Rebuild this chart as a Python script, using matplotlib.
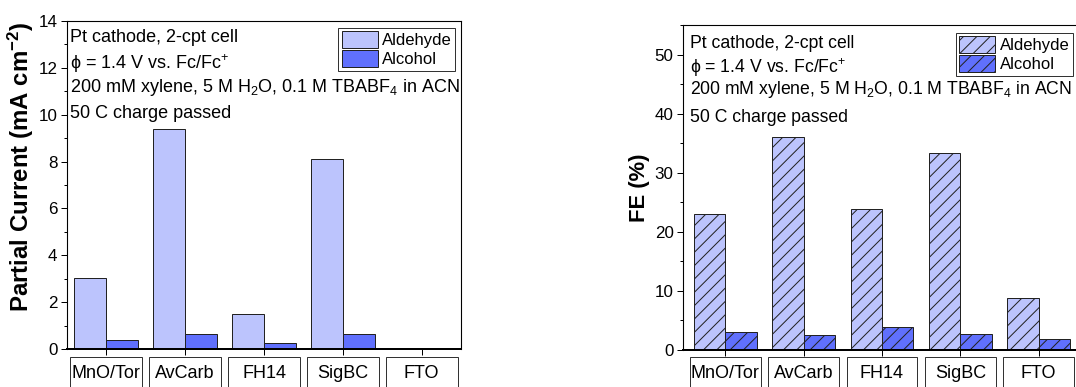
import matplotlib
matplotlib.use("Agg")
import matplotlib.pyplot as plt
from matplotlib.patches import Rectangle, Patch
from matplotlib.ticker import MultipleLocator
from matplotlib.transforms import blended_transform_factory
import numpy as np

categories = ["MnO/Tor", "AvCarb", "FH14", "SigBC", "FTO"]
current_aldehyde = [3.02, 9.37, 1.49, 8.09, 0.0]
current_alcohol = [0.37, 0.65, 0.24, 0.66, 0.0]
fe_aldehyde = [23.0, 36.1, 23.9, 33.3, 8.7]
fe_alcohol = [2.95, 2.5, 3.8, 2.7, 1.8]

W, H, DPI = 1076, 387, 120
def pt(px):
    return px * 72.0 / DPI

plt.rcParams['font.family'] = ['Liberation Sans', 'DejaVu Sans']
plt.rcParams['mathtext.fontset'] = 'custom'
plt.rcParams['mathtext.rm'] = 'Liberation Sans'
plt.rcParams['mathtext.it'] = 'Liberation Sans:italic'
plt.rcParams['mathtext.bf'] = 'Liberation Sans:bold'
plt.rcParams['mathtext.default'] = 'regular'
plt.rcParams['hatch.linewidth'] = pt(1.0)
plt.rcParams['hatch.color'] = '#222222'

C_ALD = '#BCC4FD'
C_ALC = '#6070FD'

fig = plt.figure(figsize=(W / DPI, H / DPI), dpi=DPI)

def fx(px):
    return px / W
def fy(py):
    return 1 - py / H

TICK_FS = pt(17)
TXT_FS = pt(18)
CAT_FS = pt(18)
LEG_FS = pt(16.6)

def setup(ax, ymax, major, minor, xlim):
    ax.set_xlim(*xlim)
    ax.set_ylim(0, ymax)
    ax.yaxis.set_major_locator(MultipleLocator(major))
    ax.yaxis.set_minor_locator(MultipleLocator(minor))
    ax.set_xticks(range(len(categories)))
    ax.set_xticklabels([])
    ax.tick_params(axis='y', which='major', direction='out', length=pt(6.5), width=pt(1.0),
                   labelsize=TICK_FS, pad=pt(3), colors='black')
    ax.tick_params(axis='y', which='minor', direction='out', length=pt(3.5), width=pt(1.0))
    ax.tick_params(axis='x', which='major', direction='out', length=pt(6), width=pt(1.0))
    for s in ['left', 'top', 'right']:
        ax.spines[s].set_linewidth(pt(1.1))
    ax.spines['bottom'].set_linewidth(pt(2.0))

def boxes(ax, half):
    tr = blended_transform_factory(ax.transData, fig.transFigure)
    for i, c in enumerate(categories):
        r = Rectangle((i - half, fy(400)), 2 * half, fy(357) - fy(400), transform=tr,
                      fill=False, edgecolor='#333333', linewidth=pt(1.0), clip_on=False)
        fig.add_artist(r)
        ax.text(i, fy(374), c, transform=tr, ha='center', va='center', fontsize=CAT_FS)

def annot(x0, ys, fs):
    lines = ["Pt cathode, 2-cpt cell",
             "ϕ = 1.4 V vs. Fc/Fc$^{+}$",
             "200 mM xylene, 5 M H$_{2}$O, 0.1 M TBABF$_{4}$ in ACN",
             "50 C charge passed"]
    for t, y in zip(lines, ys):
        fig.text(fx(x0), fy(y), t, ha='left', va='center', fontsize=fs)

def legend(ax, handles, anchor, loc):
    leg = ax.legend(handles=handles, loc=loc, bbox_to_anchor=anchor,
                    bbox_transform=fig.transFigure, fontsize=LEG_FS, frameon=True, fancybox=False,
                    edgecolor='black', borderpad=0.2, labelspacing=0.1, handlelength=2.17,
                    handleheight=1.2, handletextpad=0.25, borderaxespad=0)
    leg.get_frame().set_linewidth(pt(1.0))
    return leg

x = np.arange(len(categories))

# Left panel
ax1 = fig.add_axes([fx(67), fy(349), (461 - 67) / W, (349 - 21) / H])
bw1 = 0.405
ax1.bar(x - bw1 / 2, current_aldehyde, bw1, color=C_ALD, edgecolor='#222222', linewidth=pt(1.0))
ax1.bar(x + bw1 / 2, current_alcohol, bw1, color=C_ALC, edgecolor='#222222', linewidth=pt(1.0))
setup(ax1, 14, 2, 1, (-0.5, 4.5))
boxes(ax1, 0.456)
annot(70, [38, 64, 87, 113], TXT_FS)
fig.text(fx(21), fy(167), "Partial Current (mA cm$^{-2}$)", rotation=90, ha='center', va='center',
         fontsize=pt(24), fontweight='bold')
h1 = [Patch(facecolor=C_ALD, edgecolor='#222222', linewidth=pt(1.0), label='Aldehyde'),
      Patch(facecolor=C_ALC, edgecolor='#222222', linewidth=pt(1.0), label='Alcohol')]
legend(ax1, h1, (fx(455), fy(28)), 'upper right')

# Right panel
ax2 = fig.add_axes([fx(683), fy(349.7), 398 / W, (349.7 - 25) / H])
bw2 = 0.40
ax2.bar(x - bw2 / 2, fe_aldehyde, bw2, color=C_ALD, edgecolor='#222222', linewidth=pt(1.0), hatch='///')
ax2.bar(x + bw2 / 2, fe_alcohol, bw2, color=C_ALC, edgecolor='#222222', linewidth=pt(1.0), hatch='///')
setup(ax2, 55, 10, 5, (-0.54, 4.54))
boxes(ax2, 0.45)
annot(690, [43, 68, 90, 117], pt(17.6))
fig.text(fx(640), fy(188), "FE (%)", rotation=90, ha='center', va='center',
         fontsize=pt(22), fontweight='bold')
h2 = [Patch(facecolor=C_ALD, edgecolor='#222222', linewidth=pt(1.0), hatch='///', label='Aldehyde'),
      Patch(facecolor=C_ALC, edgecolor='#222222', linewidth=pt(1.0), hatch='///', label='Alcohol')]
legend(ax2, h2, (fx(956), fy(33)), 'upper left')

fig.savefig('out.png', dpi=DPI)
